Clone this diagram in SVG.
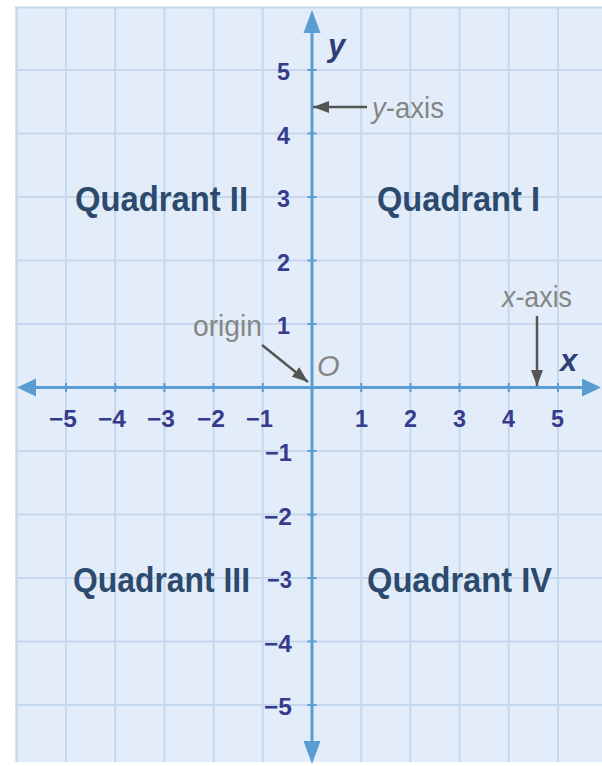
<svg xmlns="http://www.w3.org/2000/svg" width="602" height="766" viewBox="0 0 602 766">
  <defs>
    <style>
      .grid line { stroke: #c6d8ee; stroke-width: 2; }
      .axis { stroke: #5a9dd3; stroke-width: 3; fill: none; }
      .tick { stroke: #5a9dd3; stroke-width: 2; }
      .axhead { fill: #5a9dd3; }
      .num { font-family: "Liberation Sans", Arial, sans-serif; font-weight: bold; font-size: 24px; fill: #363b8c; }
      .quad { font-family: "Liberation Sans", Arial, sans-serif; font-weight: bold; font-size: 35px; fill: #2c4a6d; }
      .var { font-family: "Liberation Sans", Arial, sans-serif; font-weight: bold; font-style: italic; font-size: 31px; fill: #2e3f78; }
      .note { font-family: "Liberation Sans", Arial, sans-serif; font-size: 29px; fill: #858585; }
      .pointer { stroke: #555555; stroke-width: 2.5; fill: none; }
    </style>
    <marker id="ah" viewBox="0 0 16 12" refX="16" refY="6" markerWidth="16" markerHeight="12" markerUnits="userSpaceOnUse" orient="auto">
      <path d="M0,0 L16,6 L0,12 Z" fill="#555555"/>
    </marker>
  </defs>

  <rect x="0" y="0" width="602" height="766" fill="#ffffff"/>
  <rect x="15" y="7" width="587" height="755" fill="#e3edf9"/>

  <g id="grid" class="grid">
    <line x1="16.8" y1="7" x2="16.8" y2="762"/>
    <line x1="66" y1="7" x2="66" y2="762"/>
    <line x1="115.2" y1="7" x2="115.2" y2="762"/>
    <line x1="164.4" y1="7" x2="164.4" y2="762"/>
    <line x1="213.6" y1="7" x2="213.6" y2="762"/>
    <line x1="262.8" y1="7" x2="262.8" y2="762"/>
    <line x1="361.2" y1="7" x2="361.2" y2="762"/>
    <line x1="410.4" y1="7" x2="410.4" y2="762"/>
    <line x1="459.6" y1="7" x2="459.6" y2="762"/>
    <line x1="508.8" y1="7" x2="508.8" y2="762"/>
    <line x1="558" y1="7" x2="558" y2="762"/>
    <line x1="15" y1="7.5" x2="602" y2="7.5"/>
    <line x1="15" y1="70" x2="602" y2="70"/>
    <line x1="15" y1="133.5" x2="602" y2="133.5"/>
    <line x1="15" y1="197" x2="602" y2="197"/>
    <line x1="15" y1="260.5" x2="602" y2="260.5"/>
    <line x1="15" y1="324" x2="602" y2="324"/>
    <line x1="15" y1="451" x2="602" y2="451"/>
    <line x1="15" y1="514.5" x2="602" y2="514.5"/>
    <line x1="15" y1="578" x2="602" y2="578"/>
    <line x1="15" y1="641.5" x2="602" y2="641.5"/>
    <line x1="15" y1="705" x2="602" y2="705"/>
  </g>

  <g id="axes">
    <line class="axis" x1="30" y1="387.5" x2="588" y2="387.5"/>
    <line class="axis" x1="312" y1="28" x2="312" y2="748"/>
    <path class="axhead" d="M17,387.5 L36,378.5 L36,396.5 Z"/>
    <path class="axhead" d="M601,387.5 L582,378.5 L582,396.5 Z"/>
    <path class="axhead" d="M312,10 L303.5,33 L320.5,33 Z"/>
    <path class="axhead" d="M312,764 L303.5,741 L320.5,741 Z"/>
    <g class="tick">
      <line x1="66" y1="383" x2="66" y2="392"/>
      <line x1="115.2" y1="383" x2="115.2" y2="392"/>
      <line x1="164.4" y1="383" x2="164.4" y2="392"/>
      <line x1="213.6" y1="383" x2="213.6" y2="392"/>
      <line x1="262.8" y1="383" x2="262.8" y2="392"/>
      <line x1="361.2" y1="383" x2="361.2" y2="392"/>
      <line x1="410.4" y1="383" x2="410.4" y2="392"/>
      <line x1="459.6" y1="383" x2="459.6" y2="392"/>
      <line x1="508.8" y1="383" x2="508.8" y2="392"/>
      <line x1="558" y1="383" x2="558" y2="392"/>
      <line x1="307.5" y1="70" x2="316.5" y2="70"/>
      <line x1="307.5" y1="133.5" x2="316.5" y2="133.5"/>
      <line x1="307.5" y1="197" x2="316.5" y2="197"/>
      <line x1="307.5" y1="260.5" x2="316.5" y2="260.5"/>
      <line x1="307.5" y1="324" x2="316.5" y2="324"/>
      <line x1="307.5" y1="451" x2="316.5" y2="451"/>
      <line x1="307.5" y1="514.5" x2="316.5" y2="514.5"/>
      <line x1="307.5" y1="578" x2="316.5" y2="578"/>
      <line x1="307.5" y1="641.5" x2="316.5" y2="641.5"/>
      <line x1="307.5" y1="705" x2="316.5" y2="705"/>
    </g>
  </g>

  <g id="x-labels" class="num">
    <text x="49" y="427" textLength="28" lengthAdjust="spacingAndGlyphs">−5</text>
    <text x="98" y="427" textLength="28" lengthAdjust="spacingAndGlyphs">−4</text>
    <text x="147" y="427" textLength="28" lengthAdjust="spacingAndGlyphs">−3</text>
    <text x="197" y="427" textLength="28" lengthAdjust="spacingAndGlyphs">−2</text>
    <text x="246" y="427" textLength="27" lengthAdjust="spacingAndGlyphs">−1</text>
    <text x="355" y="427" textLength="13" lengthAdjust="spacingAndGlyphs">1</text>
    <text x="404" y="427" textLength="13" lengthAdjust="spacingAndGlyphs">2</text>
    <text x="453" y="427" textLength="13" lengthAdjust="spacingAndGlyphs">3</text>
    <text x="502" y="427" textLength="13" lengthAdjust="spacingAndGlyphs">4</text>
    <text x="551" y="427" textLength="13" lengthAdjust="spacingAndGlyphs">5</text>
  </g>

  <g id="y-labels" class="num">
    <text x="277" y="80" textLength="13" lengthAdjust="spacingAndGlyphs">5</text>
    <text x="277" y="143.5" textLength="13" lengthAdjust="spacingAndGlyphs">4</text>
    <text x="277" y="207" textLength="13" lengthAdjust="spacingAndGlyphs">3</text>
    <text x="277" y="270.5" textLength="13" lengthAdjust="spacingAndGlyphs">2</text>
    <text x="277" y="334" textLength="13" lengthAdjust="spacingAndGlyphs">1</text>
    <text x="265" y="461" textLength="27" lengthAdjust="spacingAndGlyphs">−1</text>
    <text x="264" y="524.5" textLength="28" lengthAdjust="spacingAndGlyphs">−2</text>
    <text x="267" y="588" textLength="25" lengthAdjust="spacingAndGlyphs">−3</text>
    <text x="264" y="651.5" textLength="28" lengthAdjust="spacingAndGlyphs">−4</text>
    <text x="264" y="715" textLength="28" lengthAdjust="spacingAndGlyphs">−5</text>
  </g>

  <g id="axis-names">
    <text class="var" x="328" y="56">y</text>
    <text class="var" x="560" y="371">x</text>
  </g>

  <g id="quadrant-II"><text class="quad" x="75" y="211" textLength="173" lengthAdjust="spacingAndGlyphs">Quadrant II</text></g>
  <g id="quadrant-I"><text class="quad" x="377" y="211" textLength="163" lengthAdjust="spacingAndGlyphs">Quadrant I</text></g>
  <g id="quadrant-III"><text class="quad" x="73" y="592" textLength="177" lengthAdjust="spacingAndGlyphs">Quadrant III</text></g>
  <g id="quadrant-IV"><text class="quad" x="367" y="592" textLength="185" lengthAdjust="spacingAndGlyphs">Quadrant IV</text></g>

  <g id="label-y-axis"><text class="note" x="372" y="118" textLength="72" lengthAdjust="spacingAndGlyphs"><tspan font-style="italic">y</tspan>-axis</text></g>
  <g id="label-x-axis"><text class="note" x="502" y="307" textLength="70" lengthAdjust="spacingAndGlyphs"><tspan font-style="italic">x</tspan>-axis</text></g>
  <g id="label-origin"><text class="note" x="193" y="336" textLength="69" lengthAdjust="spacingAndGlyphs">origin</text></g>
  <g id="label-O"><text class="note" x="317" y="376" font-style="italic" font-size="26">O</text></g>

  <g id="connectors">
    <line class="pointer" x1="367" y1="107" x2="313" y2="107" marker-end="url(#ah)"/>
    <line class="pointer" x1="537" y1="316" x2="537" y2="386" marker-end="url(#ah)"/>
    <line class="pointer" x1="262" y1="345" x2="308" y2="382" marker-end="url(#ah)"/>
  </g>
</svg>
